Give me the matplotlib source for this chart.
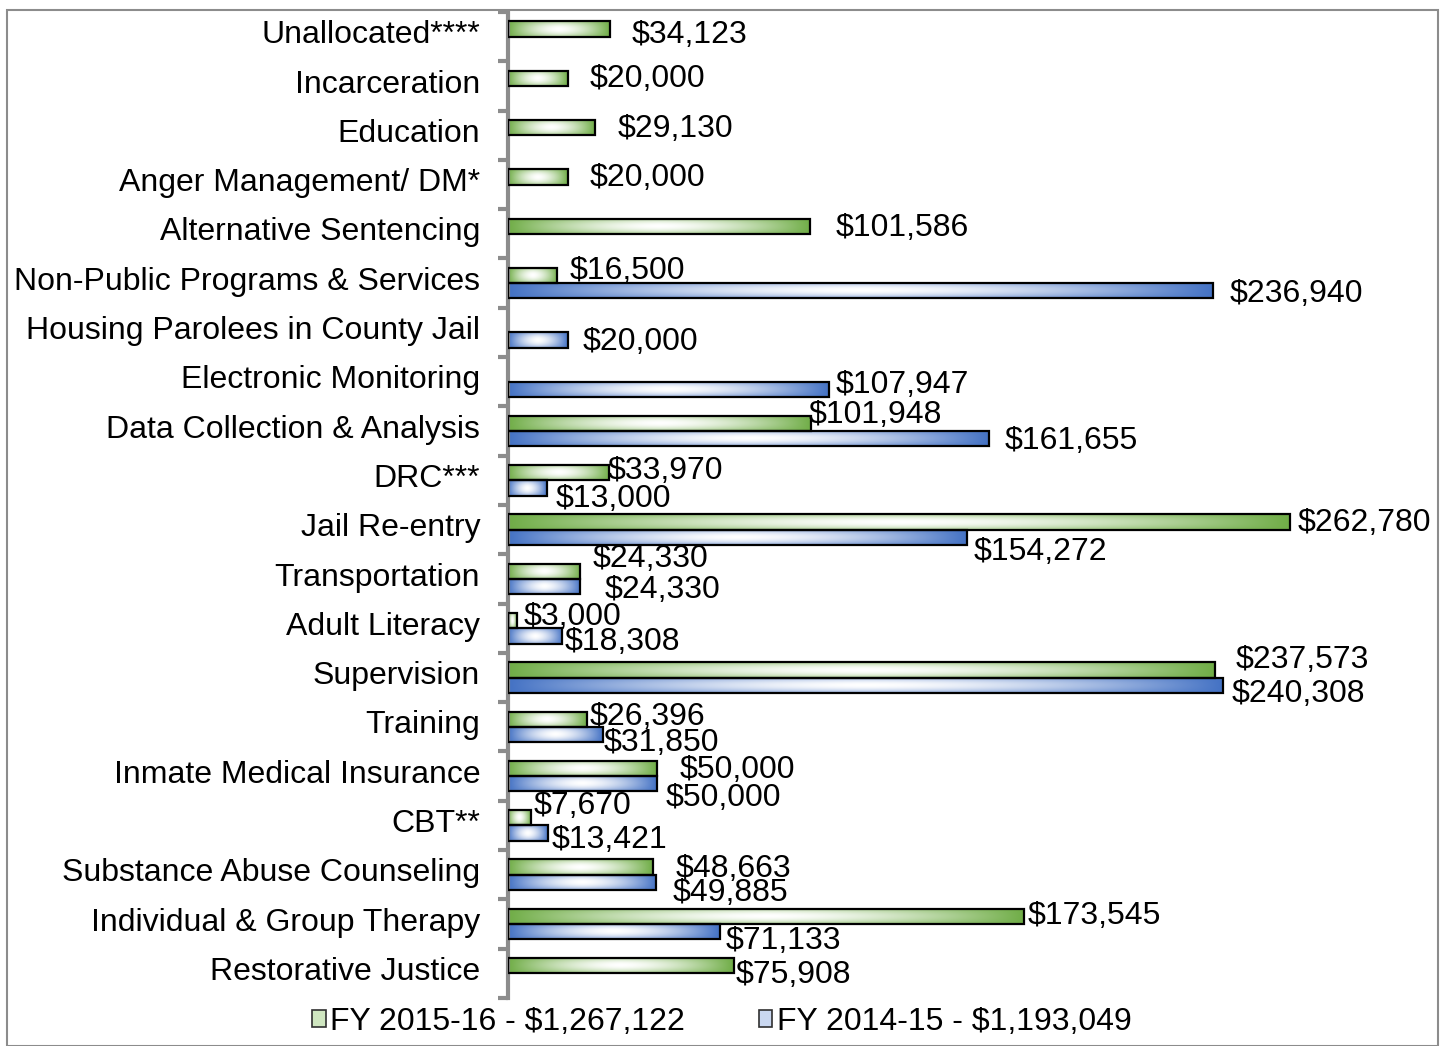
import numpy as np
import matplotlib
matplotlib.use("Agg")
import matplotlib.pyplot as plt
from matplotlib.patches import Rectangle

plt.rcParams['font.family'] = ['Liberation Sans', 'DejaVu Sans']

categories = ["Unallocated****", "Incarceration", "Education", "Anger Management/ DM*",
              "Alternative Sentencing", "Non-Public Programs & Services",
              "Housing Parolees in County Jail", "Electronic Monitoring",
              "Data Collection & Analysis", "DRC***", "Jail Re-entry", "Transportation",
              "Adult Literacy", "Supervision", "Training", "Inmate Medical Insurance",
              "CBT**", "Substance Abuse Counseling", "Individual & Group Therapy",
              "Restorative Justice"]
fy1516 = [34123, 20000, 29130, 20000, 101586, 16500, 0, 0, 101948, 33970,
          262780, 24330, 3000, 237573, 26396, 50000, 7670, 48663, 173545, 75908]
fy1415 = [0, 0, 0, 0, 0, 236940, 20000, 107947, 161655, 13000,
          154272, 24330, 18308, 240308, 31850, 50000, 13421, 49885, 71133, 0]
legend_labels = ["FY 2015-16 - $1,267,122", "FY 2014-15 - $1,193,049"]

# label offsets in pixels (dx right, dy up) from bar end / bar centre
off_green = [(22, -6), (22, -1), (23, -1), (22, -1), (25, -2), (13, 5), (0, 0), (0, 0),
             (-3, 8), (-1, 2), (8, -1), (12, 12), (7, 4), (21, 10), (3, 2), (23, -1),
             (3, 12), (23, -2), (3, 0), (2, -9)]
off_blue = [(0, 0)] * 5 + [(16, -3), (15, -2), (6, 4), (16, -2), (9, -11), (7, -15),
                           (24, -3), (2, -6), (8, -9), (1, -9), (9, -14), (4, -7),
                           (16, -11), (6, -9), (0, 0)]

GREEN = np.array([0x70, 0xAD, 0x47]) / 255
BLUE = np.array([0x44, 0x72, 0xC4]) / 255
FS = 23


def gradient(base, nx=240, ny=24):
    u = np.linspace(0, 1, nx)
    v = np.linspace(0, 1, ny)
    th = np.abs(2 * u - 1) ** 1.6
    tv = np.abs(2 * v - 1) ** 2 * 0.55
    t = 1 - (1 - th[None, :]) * (1 - tv[:, None])
    return (1 - t)[..., None] * np.ones(3) + t[..., None] * base


fig = plt.figure(figsize=(14.45, 10.46), dpi=100)
fig.patches.append(Rectangle((7 / 1445, 0), 1431 / 1445, 1 - 10 / 1046,
                             transform=fig.transFigure, fill=False,
                             edgecolor='#8c8c8c', lw=1.5))
ax = fig.add_axes([508 / 1445, 48 / 1046, 930 / 1445, 986 / 1046])

h = 0.31
y = np.arange(len(categories))
for vals, offs, base, shift in [(fy1516, off_green, GREEN, -h / 2),
                                (fy1415, off_blue, BLUE, h / 2)]:
    img = gradient(base)
    for i, v in enumerate(vals):
        if v <= 0:
            continue
        yc = y[i] + shift
        ax.imshow(img, extent=(0, v, yc + h / 2, yc - h / 2), aspect='auto',
                  interpolation='bilinear', zorder=2)
        ax.add_patch(Rectangle((0, yc - h / 2), v, h, fill=False,
                               edgecolor='black', lw=1.6, zorder=3))
        dx, dy = offs[i]
        ax.annotate(f"${v:,}", (v, yc), xytext=(dx, dy), textcoords='offset pixels',
                    ha='left', va='center', fontsize=FS, zorder=4)

ax.set_xlim(0, 312500)
ax.set_ylim(len(categories) - 0.5, -0.5)
ax.set_yticks(y - 0.1)
ax.set_yticklabels(categories, fontsize=FS)
ax.set_yticks(np.arange(-0.5, len(categories)), minor=True)
ax.tick_params(axis='y', which='major', length=0, pad=20)
ax.tick_params(axis='y', which='minor', length=7, width=3, color='#8c8c8c')
ax.set_xticks([])
for s in ['top', 'right', 'bottom']:
    ax.spines[s].set_visible(False)
ax.spines['left'].set_color('#8c8c8c')
ax.spines['left'].set_linewidth(3)

handles = [Rectangle((0, 0), 1, 1, facecolor='#cfe6c0', edgecolor='#303030', lw=1.2),
           Rectangle((0, 0), 1, 1, facecolor='#c9d7f0', edgecolor='#303030', lw=1.2)]
fig.legend(handles, legend_labels, loc='center', bbox_to_anchor=(722 / 1445, 1 - 1022 / 1046),
           ncol=2, frameon=False, fontsize=FS, handlelength=0.42, handleheight=0.42,
           handletextpad=0.15, columnspacing=2.3)

fig.savefig("out.png", dpi=100)
